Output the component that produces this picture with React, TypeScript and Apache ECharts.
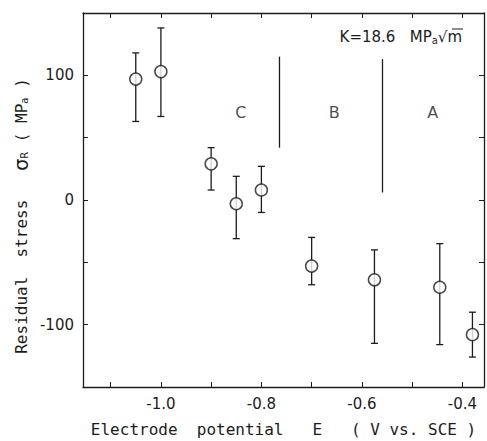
import React, { useEffect, useRef } from "react";
import * as echarts from "echarts";

// Data
const potentials = [-1.05, -1.0, -0.9, -0.85, -0.8, -0.7, -0.575, -0.445, -0.38];
const stress = [97, 103, 29, -3, 8, -53, -64, -70, -108];
const errTop = [118, 138, 42, 19, 27, -30, -40, -35, -90];
const errBottom = [63, 67, 8, -31, -10, -68, -115, -116, -126];

const dividerE = [-0.764, -0.559];
const dividerTop = [115, 113];
const dividerBottom = [42, 6];

const regionNames = ["C", "B", "A"];
const regionE = [-0.841, -0.655, -0.459];
const regionStress = [70, 70, 70];

const xTicks = [-1.1, -1.0, -0.9, -0.8, -0.7, -0.6, -0.5, -0.4];
const xLabels = [-1.0, -0.8, -0.6, -0.4];
const yTicks = [-150, -100, -50, 0, 50, 100, 150];
const yLabels = [-100, 0, 100];

const INK = "#1c1c1c";
const FONT = "DejaVu Sans";
const MONO = "DejaVu Sans Mono";

export default function App() {
  const ref = useRef<HTMLDivElement>(null);
  useEffect(() => {
    if (!ref.current) return;
    const chart = echarts.init(ref.current, null, { renderer: "svg" });
    const xMin = -1.155;
    const xMax = -0.357;
    const axisLine = { onZero: false, lineStyle: { color: INK, width: 1.3 } };
    const option: any = {
      animation: false,
      backgroundColor: "#ffffff",
      textStyle: { fontFamily: FONT, color: INK },
      grid: { left: 83, right: 3, top: 13, bottom: 54, containLabel: false, outerBoundsMode: "none" },
      xAxis: [
        {
          type: "value",
          min: xMin,
          max: xMax,
          position: "bottom",
          splitLine: { show: false },
          axisLine,
          axisTick: { inside: true, length: 5, customValues: xTicks, lineStyle: { color: INK } },
          axisLabel: {
            customValues: xLabels,
            formatter: (v: number) => v.toFixed(1),
            fontSize: 15,
            color: INK,
            fontFamily: FONT,
            margin: 9,
          },
          name: "Electrode  potential   E   ( V vs. SCE )",
          nameLocation: "middle",
          nameGap: 34,
          nameTextStyle: { fontSize: 16, color: INK, fontFamily: MONO },
        },
        {
          type: "value",
          min: xMin,
          max: xMax,
          position: "top",
          splitLine: { show: false },
          axisLine,
          axisTick: { inside: true, length: 5, customValues: xTicks, lineStyle: { color: INK } },
          axisLabel: { show: false },
        },
      ],
      yAxis: [
        {
          type: "value",
          min: -150,
          max: 150,
          position: "left",
          splitLine: { show: false },
          axisLine,
          axisTick: { inside: true, length: 5, customValues: yTicks, lineStyle: { color: INK } },
          axisLabel: {
            customValues: yLabels,
            fontSize: 15,
            color: INK,
            fontFamily: FONT,
            margin: 9,
          },
        },
        {
          type: "value",
          min: -150,
          max: 150,
          position: "right",
          splitLine: { show: false },
          axisLine,
          axisTick: { inside: true, length: 5, customValues: yTicks, lineStyle: { color: INK } },
          axisLabel: { show: false },
        },
      ],
      graphic: [
        {
          type: "text",
          x: 21,
          y: 216,
          rotation: Math.PI / 2,
          style: {
            text: "Residual  stress   {s|σ}{sub|R} ( MP{sub|a} )",
            fontSize: 16,
            fontFamily: MONO,
            fill: INK,
            align: "center",
            verticalAlign: "middle",
            rich: {
              s: { fontSize: 19, fontFamily: FONT, fill: INK },
              sub: { fontSize: 10, fontFamily: FONT, fill: INK, padding: [7, 0, 0, 0] },
            },
          },
        },
        {
          type: "text",
          x: 462,
          y: 37,
          style: {
            text: "K=18.6   MP{sub|a}√m",
            fontSize: 15,
            fontFamily: FONT,
            fill: INK,
            align: "right",
            verticalAlign: "middle",
            rich: {
              sub: { fontSize: 10, fontFamily: FONT, fill: INK, padding: [7, 0, 0, 0] },
            },
          },
        },
        {
          type: "line",
          shape: { x1: 452, y1: 29, x2: 463, y2: 29 },
          style: { stroke: INK, lineWidth: 1 },
        },
      ],
      series: [
        {
          type: "custom",
          name: "dividers",
          xAxisIndex: 0,
          yAxisIndex: 0,
          data: dividerE.map((e, i) => [e, dividerTop[i], dividerBottom[i]]),
          renderItem: (_p: any, api: any) => {
            const a = api.coord([api.value(0), api.value(1)]);
            const b = api.coord([api.value(0), api.value(2)]);
            return {
              type: "line",
              shape: { x1: a[0], y1: a[1], x2: b[0], y2: b[1] },
              style: { stroke: INK, lineWidth: 1.3 },
            };
          },
          silent: true,
        },
        {
          type: "custom",
          name: "error bars",
          xAxisIndex: 0,
          yAxisIndex: 0,
          data: potentials.map((e, i) => [e, errTop[i], errBottom[i]]),
          renderItem: (_p: any, api: any) => {
            const hi = api.coord([api.value(0), api.value(1)]);
            const lo = api.coord([api.value(0), api.value(2)]);
            const w = 3.5;
            const st = { stroke: INK, lineWidth: 1.3 };
            return {
              type: "group",
              children: [
                { type: "line", shape: { x1: hi[0], y1: hi[1], x2: lo[0], y2: lo[1] }, style: st },
                { type: "line", shape: { x1: hi[0] - w, y1: hi[1], x2: hi[0] + w, y2: hi[1] }, style: st },
                { type: "line", shape: { x1: lo[0] - w, y1: lo[1], x2: lo[0] + w, y2: lo[1] }, style: st },
              ],
            };
          },
          z: 2,
          silent: true,
        },
        {
          type: "scatter",
          name: "residual stress",
          xAxisIndex: 0,
          yAxisIndex: 0,
          symbol: "circle",
          symbolSize: 12,
          itemStyle: { color: "#ffffff", borderColor: INK, borderWidth: 1.5 },
          data: potentials.map((e, i) => [e, stress[i]]),
          z: 3,
          silent: true,
        },
        {
          type: "scatter",
          name: "regions",
          xAxisIndex: 0,
          yAxisIndex: 0,
          symbolSize: 0,
          data: regionNames.map((n, i) => ({ name: n, value: [regionE[i], regionStress[i]] })),
          label: {
            show: true,
            position: "inside",
            formatter: "{b}",
            fontSize: 16,
            color: INK,
            fontFamily: FONT,
          },
          silent: true,
        },
      ],
    };
    chart.setOption(option);
    return () => chart.dispose();
  }, []);
  return <div ref={ref} style={{ width: 487, height: 441, position: "absolute", left: 0, top: 0 }} />;
}
